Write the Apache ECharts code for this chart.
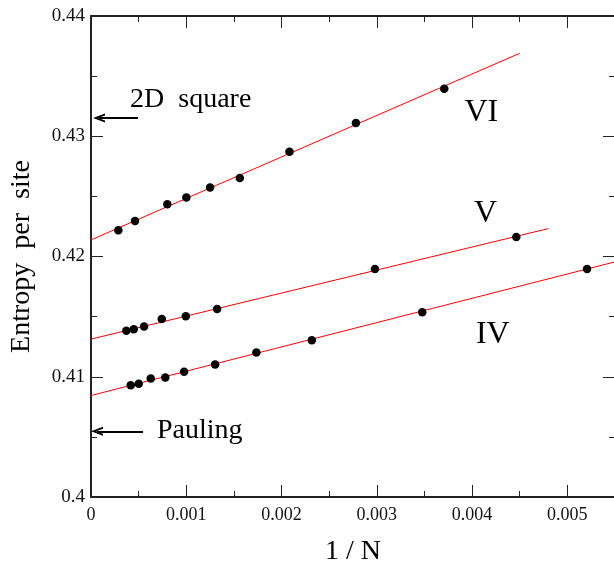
<!DOCTYPE html>
<html>
<head>
<meta charset="utf-8">
<script src="https://cdn.jsdelivr.net/npm/echarts@6/dist/echarts.min.js"></script>
<style>
  html, body { margin: 0; padding: 0; background: #fff; }
  #chart { width: 614px; height: 562px; }
</style>
</head>
<body>
<div id="chart"></div>
<script>
let chartDom = document.getElementById('chart');
let myChart = echarts.init(chartDom);

// data points, 1/N vs entropy per site
const xVI = [0.000287, 0.000462, 0.000801, 0.001001, 0.00125, 0.001562, 0.002083, 0.00278, 0.003708];
const yVI = [0.42219, 0.42296, 0.42435, 0.42490, 0.42573, 0.42653, 0.42872, 0.43111, 0.43396];
const xV = [0.000371, 0.000449, 0.000557, 0.000743, 0.000995, 0.001324, 0.00298, 0.004464];
const yV = [0.41382, 0.41396, 0.41417, 0.41481, 0.41504, 0.41564, 0.41897, 0.42163];
const xIV = [0.000417, 0.000501, 0.000627, 0.00078, 0.000977, 0.001303, 0.001736, 0.002318, 0.003477, 0.005207];
const yIV = [0.40930, 0.40941, 0.40985, 0.40993, 0.41041, 0.41101, 0.41201, 0.41304, 0.41537, 0.41897];

// linear fits (end points)
const fitVI = [[0, 0.42138], [0.0045, 0.4369]];
const fitV = [[0, 0.41313], [0.0048, 0.42232]];
const fitIV = [[0, 0.40844], [0.0058, 0.42016]];

// reference values
const squareIce = 0.431523;
const pauling = 0.405465;
const arrowSquareX = [0.000494, 0.000084];
const arrowPaulingX = [0.000546, 0.000063];

// text labels
const leftLabels = [
    { name: '2D  square', value: [0.00041, 0.43308] },
    { name: 'Pauling', value: [0.000693, 0.40554] }
];
const centerLabels = [
    { name: 'VI', value: [0.004097, 0.43198] },
    { name: 'V', value: [0.004142, 0.42358] },
    { name: 'IV', value: [0.004217, 0.41348] }
];

const font = 'Liberation Serif';
const axisColor = '#222';

function zip(xs, ys) {
    let out = [];
    for (let i = 0; i < xs.length; i++) {
        out.push([xs[i], ys[i]]);
    }
    return out;
}

function dots(xs, ys) {
    return {
        type: 'scatter',
        data: zip(xs, ys),
        symbolSize: 8.5,
        itemStyle: { color: '#000', opacity: 1 },
        z: 5
    };
}

function fit(points) {
    return {
        type: 'line',
        data: points,
        symbol: 'none',
        lineStyle: { color: '#ff0000', width: 1 },
        clip: true,
        z: 3
    };
}

// open arrow head, pointing up (markLine rotates it along the line)
const arrowHead = 'path://M0,12 L5,0 L10,12 L7.8,12 L5,5 L2.2,12 Z';

function arrow(xs, y) {
    return {
        type: 'line',
        data: [],
        markLine: {
            silent: true,
            symbol: ['none', arrowHead],
            symbolSize: [9, 12],
            label: { show: false },
            lineStyle: { color: '#000', width: 1.8, type: 'solid' },
            data: [[{ coord: [xs[0], y] }, { coord: [xs[1], y] }]]
        },
        z: 4
    };
}

function baseX(show) {
    return {
        type: 'value',
        min: 0,
        max: 0.0055,
        interval: 0.001,
        position: show ? 'bottom' : 'top',
        axisLine: { show: true, onZero: false, lineStyle: { color: axisColor, width: 2 } },
        axisTick: { show: true, inside: true, length: 12, lineStyle: { color: axisColor, width: 1 } },
        minorTick: { show: true, splitNumber: 2, length: 6, lineStyle: { color: axisColor, width: 1 } },
        splitLine: { show: false },
        axisLabel: {
            show: show,
            showMaxLabel: false,
            margin: 9,
            color: '#111',
            fontFamily: font,
            fontSize: 18
        }
    };
}

function baseY(show) {
    return {
        type: 'value',
        min: 0.40,
        max: 0.44,
        interval: 0.01,
        position: show ? 'left' : 'right',
        axisLine: { show: true, onZero: false, lineStyle: { color: axisColor, width: 2 } },
        axisTick: { show: true, inside: true, length: 12, lineStyle: { color: axisColor, width: 1 } },
        minorTick: { show: true, splitNumber: 2, length: 6, lineStyle: { color: axisColor, width: 1 } },
        splitLine: { show: false },
        axisLabel: {
            show: show,
            margin: 6,
            color: '#111',
            fontFamily: font,
            fontSize: 19
        }
    };
}

let xBottom = baseX(true);
xBottom.name = '1 / N';
xBottom.nameLocation = 'middle';
xBottom.nameGap = 41;
xBottom.nameTextStyle = { fontFamily: font, fontSize: 28, color: '#000' };

let yLeft = baseY(true);
yLeft.name = 'Entropy  per  site';
yLeft.nameLocation = 'middle';
yLeft.nameGap = 55;
yLeft.nameTextStyle = { fontFamily: font, fontSize: 28, color: '#000' };

function textSeries(data, position, size) {
    return {
        type: 'scatter',
        data: data,
        symbolSize: 0,
        silent: true,
        itemStyle: { opacity: 1 },
        label: {
            show: true,
            position: position,
            distance: 0,
            formatter: '{b}',
            fontFamily: font,
            fontSize: size,
            color: '#000'
        }
    };
}

let option = {
    animation: false,
    backgroundColor: '#fff',
    grid: { left: 91, top: 16, right: -1, bottom: 65, outerBoundsMode: 'none', containLabel: false },
    xAxis: [xBottom, baseX(false)],
    yAxis: [yLeft, baseY(false)],
    series: [
        fit(fitVI),
        fit(fitV),
        fit(fitIV),
        dots(xVI, yVI),
        dots(xV, yV),
        dots(xIV, yIV),
        arrow(arrowSquareX, squareIce),
        arrow(arrowPaulingX, pauling),
        textSeries(leftLabels, 'right', 28),
        textSeries(centerLabels, 'inside', 32)
    ]
};
option && myChart.setOption(option);
</script>
</body>
</html>
